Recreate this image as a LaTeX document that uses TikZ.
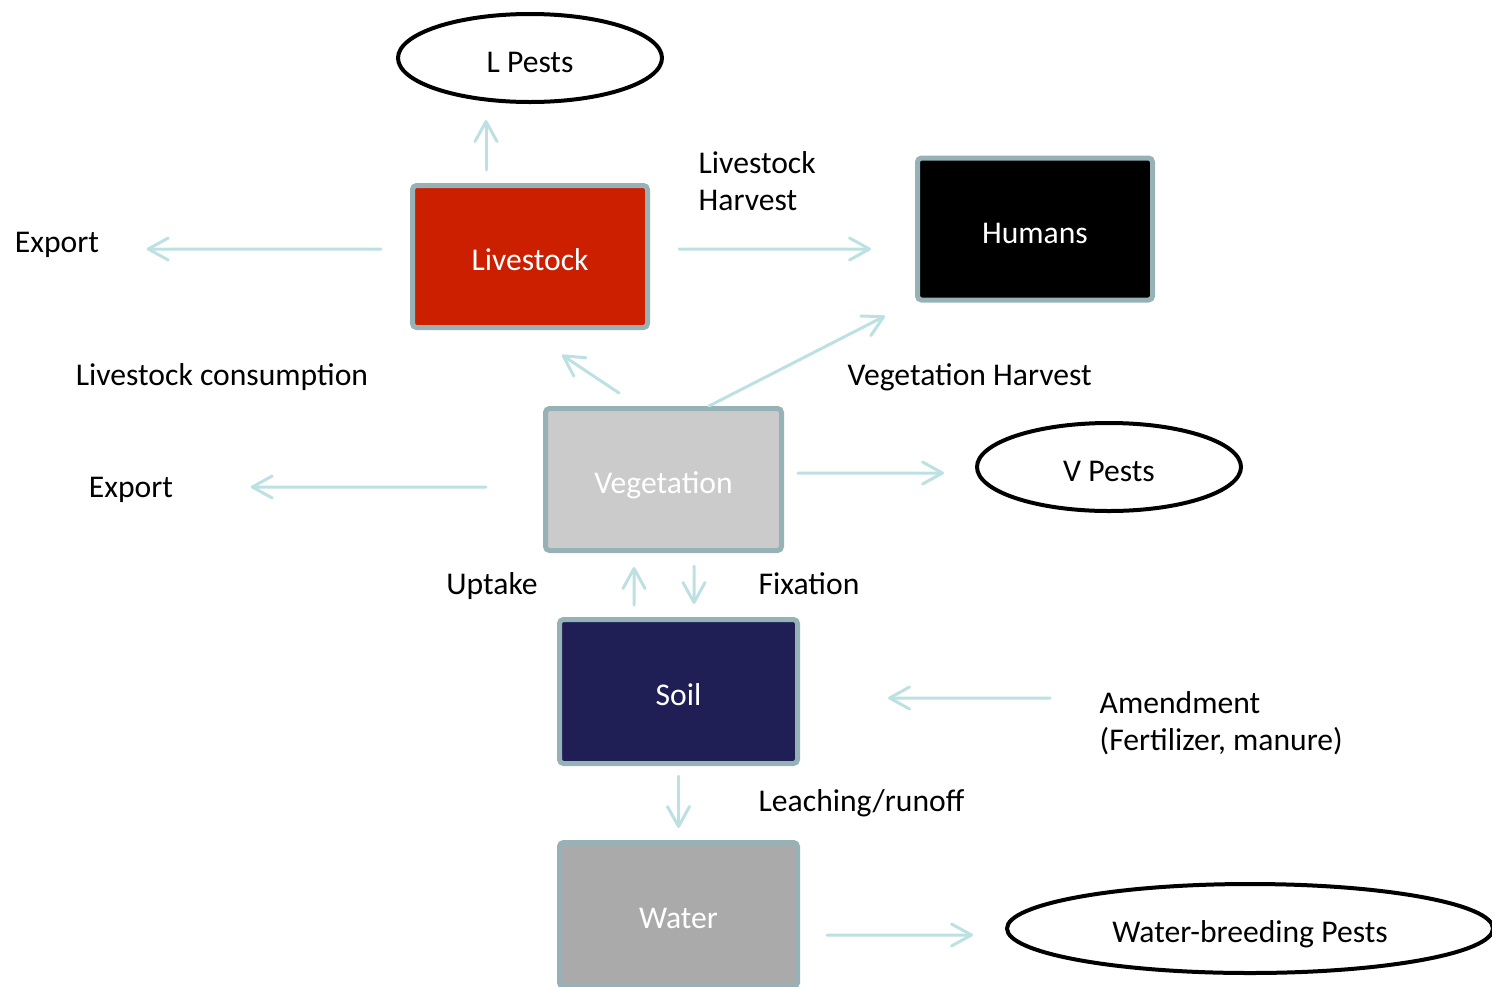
\documentclass[tikz,border=0pt]{standalone}
\usepackage{fontspec}
\setmainfont{Carlito}
\usepackage{xcolor}
\usepackage{tikz}
\usetikzlibrary{shapes,arrows.meta}
\definecolor{flowblue}{HTML}{BDE0E3}
\definecolor{framegray}{HTML}{96B2B6}
\definecolor{livered}{HTML}{CC1F00}
\definecolor{veggray}{HTML}{CBCBCB}
\definecolor{soilblue}{HTML}{1F1F55}
\definecolor{watergray}{HTML}{AAAAAA}

\begin{document}
\begin{tikzpicture}[
        every node/.style={font=\fontsize{9}{10.5}\selectfont},
        box/.style={rectangle, draw=framegray, line width=0.05cm, rounded corners=0.4mm, text=white, text height=8pt, text depth=0pt, minimum width=2.36cm, minimum height=1.42cm},
        pest/.style={ellipse, draw=black, line width=0.04cm, text height=8pt, text depth=0pt, minimum width=2.64cm, minimum height=0.88cm},
        flow/.style={-{Straight Barb[length=2mm,width=2.2mm,round]}, line width=0.03cm, flowblue, line cap=round},
        lbl/.style={inner sep=0pt, align=left}
    ]
        \useasboundingbox (0,0) rectangle (14.92,-9.87);

        % Compartments
        \node[pest] (lpest) at (5.30,-0.58) {L Pests};
        \node[box, fill=livered, minimum width=2.35cm] (liv) at (5.30,-2.565) {Livestock};
        \node[box, fill=black, minimum width=2.35cm] (hum) at (10.35,-2.29) {Humans};
        \node[box, fill=veggray] (veg) at (6.635,-4.795) {Vegetation};
        \node[pest] (vpest) at (11.09,-4.67) {V Pests};
        \node[box, fill=soilblue, minimum width=2.38cm, minimum height=1.44cm] (soil) at (6.785,-6.915) {Soil};
        \node[box, fill=watergray, minimum width=2.38cm, minimum height=1.44cm] (water) at (6.785,-9.145) {Water};
        \node[pest, minimum width=4.86cm, minimum height=0.89cm] (wbp) at (12.50,-9.285) {Water-breeding Pests};

        % Flow labels
        \node[lbl] (exp1) at (0.57,-2.45) {Export};
        \node[lbl] (lcons) at (2.22,-3.77) {Livestock consumption};
        \node[lbl] (exp2) at (1.31,-4.90) {Export};
        \node[lbl, anchor=west] (lharv) at (6.98,-1.815) {Livestock\\Harvest};
        \node[lbl, anchor=west] (vharv) at (8.47,-3.77) {Vegetation Harvest};
        \node[lbl] (upt) at (4.92,-5.86) {Uptake};
        \node[lbl, anchor=west] (fix) at (7.58,-5.84) {Fixation};
        \node[lbl, anchor=west] (leach) at (7.58,-8.03) {Leaching/runoff};
        \node[lbl, anchor=west] (amend) at (10.99,-7.235) {Amendment\\(Fertilizer, manure)};

        % Flows
        \draw[flow] ([xshift=-4.4mm,yshift=1.3mm]liv.north) -- ([xshift=-4.4mm,yshift=-1.6mm]lpest.south);
        \draw[flow] ([xshift=-2.9mm,yshift=.75mm]liv.west) -- ([xshift=4.7mm,yshift=-.4mm]exp1.east);
        \draw[flow] ([xshift=2.9mm,yshift=.75mm]liv.east) -- ([xshift=-4.4mm,yshift=-2mm]hum.west);
        \draw[flow] ([xshift=-4.45mm,yshift=1.3mm]veg.north) -- ([xshift=3.2mm,yshift=-2.5mm]liv.south);
        \draw[flow] ([xshift=4.55mm]veg.north) -- ([xshift=-15mm,yshift=-1.35mm]hum.south);
        \draw[flow] ([xshift=-5.7mm,yshift=-.75mm]veg.west) -- ([xshift=7.7mm,yshift=.3mm]exp2.east);
        \draw[flow] ([xshift=1.4mm,yshift=.65mm]veg.east) -- ([xshift=-3.1mm,yshift=-.6mm]vpest.west);
        \draw[flow] ([xshift=-4.45mm,yshift=1.2mm]soil.north) -- ([xshift=-2.95mm,yshift=-1.4mm]veg.south);
        \draw[flow] ([xshift=3.05mm,yshift=-1.3mm]veg.south) -- ([xshift=1.55mm,yshift=1.3mm]soil.north);
        \draw[flow] ([xshift=-4.9mm,yshift=2.55mm]amend.west) -- ([xshift=8.8mm,yshift=-.65mm]soil.east);
        \draw[flow] ([yshift=-1mm]soil.south) -- ([yshift=1.2mm]water.north);
        \draw[flow] ([xshift=2.7mm,yshift=-2.05mm]water.east) -- ([xshift=-3.2mm,yshift=-.65mm]wbp.west);

    \end{tikzpicture}
\end{document}
